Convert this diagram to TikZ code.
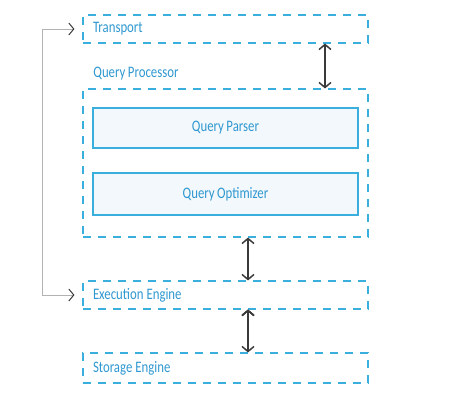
\documentclass[tikz,border=0pt]{standalone}
\usepackage{fontspec}
\setmainfont{Carlito}[FakeStretch=0.8,WordSpace=0.85]
\usetikzlibrary{arrows.meta,positioning}

\definecolor{layerblue}{HTML}{3AAEDC}
\definecolor{textblue}{HTML}{2F98D0}
\definecolor{boxfill}{HTML}{F3F8FC}
\definecolor{tipgray}{HTML}{3A3A3A}
\newcommand{\wsp}{\hspace{3pt}}

\begin{document}
\begin{tikzpicture}[x=1pt,y=-1pt,>={Straight Barb[length=5pt,width=12pt,color=tipgray]},thick]
\tikzstyle{layer}=[draw=layerblue,line width=1.1pt,dash pattern=on 8pt off 7pt,minimum width=285pt,text=textblue,font=\fontsize{16}{18}\selectfont,inner sep=0pt,text width=265pt]
\tikzstyle{part}=[draw=layerblue,line width=2pt,fill=boxfill,minimum width=265pt,text=textblue,font=\fontsize{16}{18}\selectfont,align=center]
\tikzstyle{link}=[<->,draw=tipgray,line width=1.5pt]
\useasboundingbox (0,0) rectangle (451,410);

\node[layer,minimum height=28pt] (transport) at (225.5,29) {Transport};
\node[layer,minimum height=148pt] (qp) [below of=transport, node distance=134pt] {};
\node[anchor=west,text=textblue,font=\fontsize{16}{18}\selectfont,inner sep=0pt] (qplabel) at (93,74) {Query Processor};
\node[part,minimum height=40pt] (parser) at (225.5,128) {Query Parser};
\node[part,minimum height=42pt] (optimizer) [below of=parser, node distance=66pt] {Query Optimizer};
\node[layer,minimum height=28pt] (exec) [below of=qp, node distance=132pt] {Execution\wsp Engine};
\node[layer,minimum height=30pt] (storage) [below of=exec, node distance=73pt] {Storage\wsp Engine};

\path[link]
(transport.south -| 325,0) edge (qp.north -| 325,0)
(qp.south -| 248,0) edge (exec.north -| 248,0)
(exec.south -| 248,0) edge (storage.north -| 248,0);
\draw[<->,draw=gray!60,line width=1pt,shorten <=8pt,shorten >=8pt] (transport.west) -- ++(-40,0) |- (exec.west);
\end{tikzpicture}
\end{document}
